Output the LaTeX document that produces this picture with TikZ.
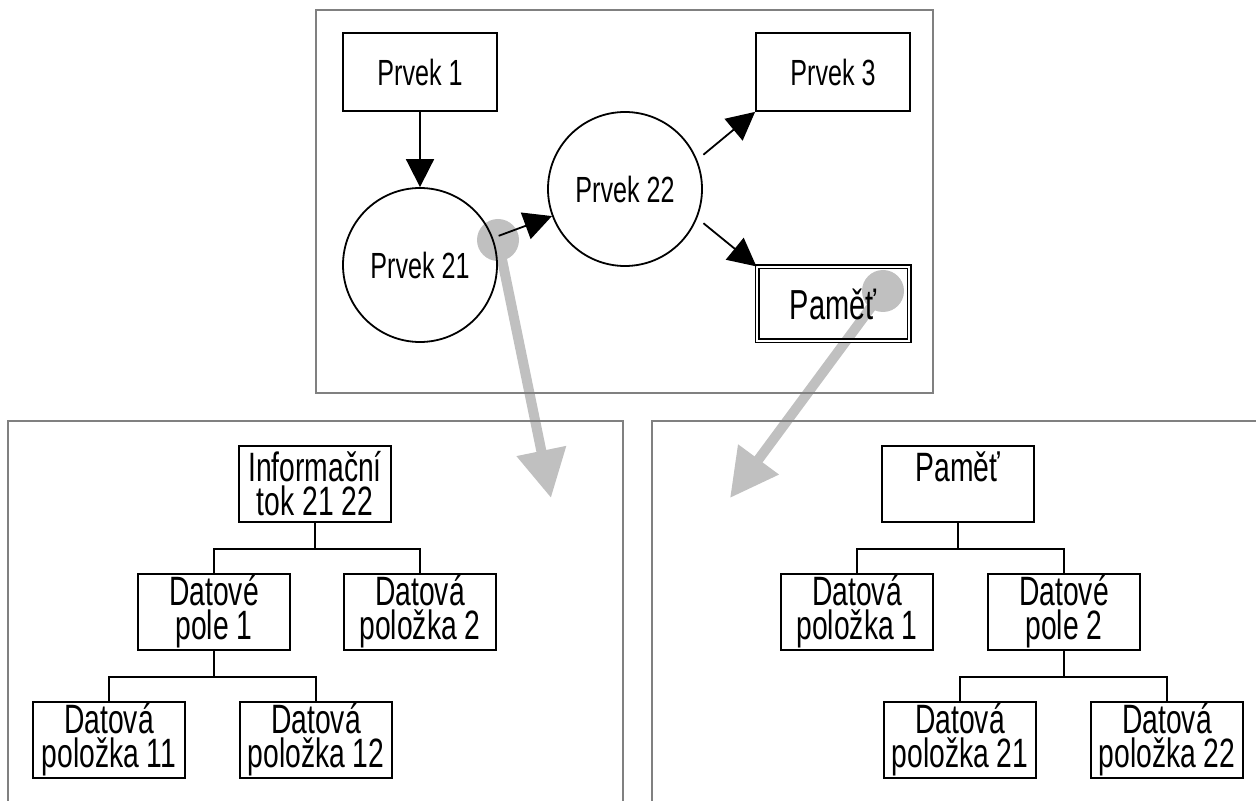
\documentclass[tikz,border=0pt]{standalone}
\usepackage{fontspec}
\setmainfont{Liberation Sans}
\newfontfamily\condfont[FakeStretch=0.69]{Liberation Sans}
\usetikzlibrary{arrows.meta}
\definecolor{framegray}{HTML}{808080}
\definecolor{hlgray}{HTML}{C0C0C0}
\begin{document}
\begin{tikzpicture}[x=0.5pt,y=-0.5pt,
  frame/.style={draw=framegray, line width=0.65pt},
  topbox/.style={draw, line width=0.9pt, minimum width=77pt, minimum height=39pt, inner sep=0pt,
    font=\condfont\fontsize{18.2}{16}\selectfont},
  elem/.style={draw, circle, line width=0.9pt, minimum size=77pt, inner sep=0pt,
    font=\condfont\fontsize{18.2}{16}\selectfont},
  memtop/.style={draw, double, line width=0.6pt, double distance=1.3pt, minimum width=76pt, minimum height=37pt,
    inner sep=0pt, font=\condfont\fontsize{21}{16}\selectfont},
  treebox/.style={draw, line width=0.9pt, minimum width=76pt, minimum height=38pt, inner sep=0pt, align=center,
    font=\condfont\fontsize{20.5}{17}\selectfont},
  flow/.style={line width=0.9pt, -{Triangle[length=14pt,width=14pt]}},
  link/.style={line width=0.9pt},
  hl/.style={draw=hlgray, line width=5pt, -{Triangle[length=24pt,width=24pt]}}
]
\useasboundingbox (0,0) rectangle (1256,801);

% highlight arrows (underneath)
\coordinate (g1) at (498,240);
\coordinate (g1e) at (551,498);
\coordinate (g2) at (883,291);
\coordinate (g2e) at (730,498);
\fill[hlgray] (g1) circle[radius=10.5pt];
\fill[hlgray] (g2) circle[radius=10.5pt];
\draw[hl] (g1) -- (g1e);
\draw[hl] (g2) -- (g2e);

% frames
\draw[frame] (316,10) rectangle (933,393);
\draw[frame] (8,810) -- (8,421) -- (623,421) -- (623,810);
\draw[frame] (652,810) -- (652,421) -- (1270,421);

% top diagram
\node[topbox] (p1) at (420,72) {Prvek 1};
\node[topbox] (p3) at (833,72) {Prvek 3};
\node[elem] (p21) at (420,265) {Prvek 21};
\node[elem] (p22) at (625,189) {Prvek 22};
\node[memtop] (pam) at (833,304) {Paměť};

\draw[flow] (p1) -- (p21);
\draw[flow, shorten <=3pt] (p21) -- (p22);
\draw[flow, shorten <=4pt] (p22.22) -- (p3.south west);
\draw[flow, shorten <=4pt] (p22.-22) -- (pam.north west);

% left tree
\node[treebox] (inf) at (315,484) {Informační\\tok 21 22};
\node[treebox] (dp1) at (214,612) {Datové\\pole 1};
\node[treebox] (dpo2) at (420,612) {Datová\\položka 2};
\node[treebox] (dpo11) at (109,740) {Datová\\položka 11};
\node[treebox] (dpo12) at (316,740) {Datová\\položka 12};
\draw[link] (inf.south) -- ++(0,26) -| (dp1.north);
\draw[link] (inf.south) -- ++(0,26) -| (dpo2.north);
\draw[link] (dp1.south) -- ++(0,26) -| (dpo11.north);
\draw[link] (dp1.south) -- ++(0,26) -| (dpo12.north);

% right tree
\node[treebox] (pam2) at (958,484) {Paměť\\\mbox{}};
\node[treebox] (dpo1) at (857,612) {Datová\\položka 1};
\node[treebox] (dp2) at (1064,612) {Datové\\pole 2};
\node[treebox] (dpo21) at (960,740) {Datová\\položka 21};
\node[treebox] (dpo22) at (1167,740) {Datová\\položka 22};
\draw[link] (pam2.south) -- ++(0,26) -| (dpo1.north);
\draw[link] (pam2.south) -- ++(0,26) -| (dp2.north);
\draw[link] (dp2.south) -- ++(0,26) -| (dpo21.north);
\draw[link] (dp2.south) -- ++(0,26) -| (dpo22.north);
\end{tikzpicture}
\end{document}
